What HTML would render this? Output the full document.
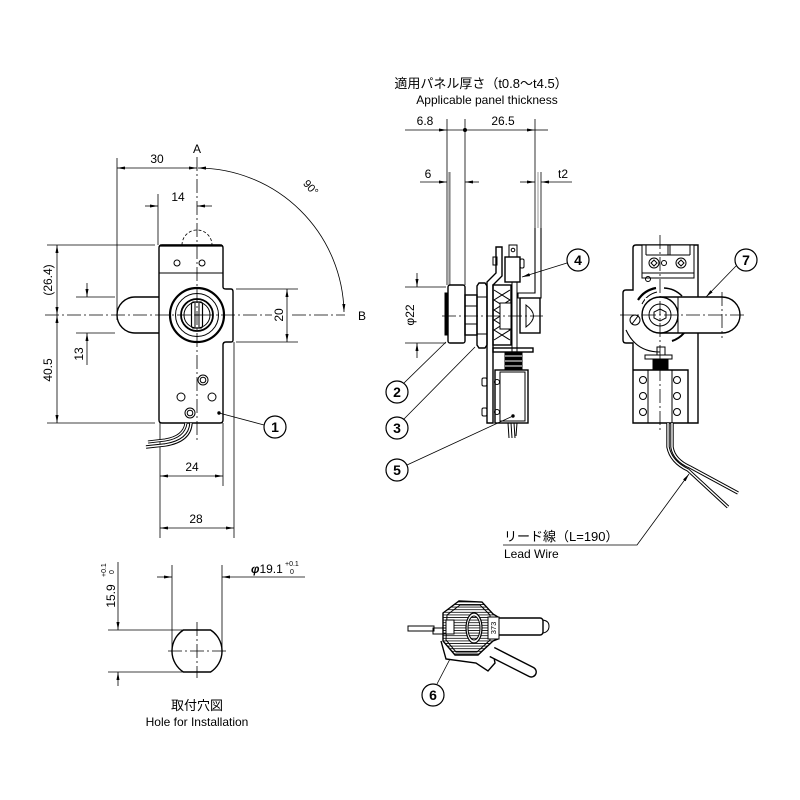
<!DOCTYPE html>
<html><head><meta charset="utf-8"><style>
html,body{margin:0;padding:0;background:#fff;}
svg{display:block;}
text{font-family:"Liberation Sans","Noto Sans CJK JP",sans-serif;fill:#000;}
.cl{stroke-dasharray:14 3 2 3;stroke-width:0.8;}
.t{stroke-width:0.8;}
.o{stroke-width:1.4;}
</style></head><body>
<svg width="800" height="800" viewBox="0 0 800 800" xmlns="http://www.w3.org/2000/svg">
<defs>
<marker id="ar" viewBox="0 0 10 10" refX="10" refY="5" markerWidth="8" markerHeight="8" markerUnits="userSpaceOnUse" orient="auto-start-reverse"><path d="M0,3.1 L10,5 L0,6.9Z" fill="#000" stroke="none"/></marker>
<pattern id="hs" width="3" height="2.6" patternUnits="userSpaceOnUse"><line x1="0" y1="1.3" x2="3" y2="1.3" stroke="#000" stroke-width="0.8"/></pattern>
</defs>
<rect width="800" height="800" fill="#fff"/>

<g stroke="#000" fill="none" stroke-width="1">
<!-- ================= LEFT VIEW ================= -->
<line class="cl" x1="197" y1="157" x2="197" y2="440"/>
<line class="cl" x1="45" y1="315" x2="272" y2="315"/>
<line class="cl" x1="292" y1="315" x2="345" y2="315"/>

<!-- dim 30 -->
<line class="t" x1="117" y1="158" x2="117" y2="320"/>
<line class="t" x1="117" y1="168" x2="197" y2="168" marker-start="url(#ar)" marker-end="url(#ar)"/>
<!-- 90 arc -->
<path class="t" d="M198,168 A147,147 0 0 1 344,312" marker-start="url(#ar)" marker-end="url(#ar)"/>
<!-- dim 14 -->
<line class="t" x1="158" y1="194" x2="158" y2="245"/>
<line class="t" x1="145" y1="206" x2="158" y2="206" marker-end="url(#ar)"/>
<line class="t" x1="212" y1="206" x2="197" y2="206" marker-end="url(#ar)"/>

<!-- body -->
<path class="o" d="M159,248 Q159,245 162,245 L220,245 Q223,245 223,248 L223,287 Q223,289 226,289 L231,289 Q233,289 233,292 L233,340 Q233,342 231,342 L226,342 Q223,342 223,345 L223,420 Q223,423 220,423 L162,423 Q159,423 159,420 Z"/>
<line x1="160" y1="245.5" x2="222" y2="245.5" stroke-width="2.2"/>
<line x1="159" y1="273" x2="223" y2="273"/>
<path class="t" d="M182,245 A15,15 0 0 1 212,245" stroke-dasharray="3 2"/>
<circle cx="177" cy="263" r="3"/><circle cx="202" cy="263" r="3"/>
<!-- lock -->
<circle cx="197" cy="315" r="27" stroke-width="2.2"/>
<circle cx="197" cy="315" r="21.5"/>
<circle cx="197" cy="315" r="16" stroke-width="1.8"/>
<circle cx="197" cy="315" r="13"/>
<rect x="191.5" y="302" width="11" height="26" rx="2" stroke-width="1.2"/>
<line x1="195" y1="303" x2="195" y2="327"/><line x1="199" y1="303" x2="199" y2="327"/>
<line x1="195" y1="315" x2="199" y2="315"/>
<!-- handle -->
<path class="o" d="M159,297 L135,297 A18,18 0 0 0 135,333 L159,333"/>
<!-- screws/holes lower -->
<circle cx="203" cy="380" r="5"/><circle cx="203" cy="380" r="2.8"/>
<circle cx="190" cy="413" r="5"/><circle cx="190" cy="413" r="2.8"/>
<circle cx="181" cy="397" r="4"/><circle cx="212" cy="397" r="4"/>
<!-- leader 1 -->
<circle cx="219" cy="413" r="1.2" fill="#000"/>
<line class="t" x1="219" y1="413" x2="264" y2="425"/>
<circle cx="275" cy="427" r="11" stroke-width="1.2"/>

<!-- dim 13 -->
<line class="t" x1="76" y1="297" x2="115" y2="297"/>
<line class="t" x1="76" y1="333" x2="115" y2="333"/>
<line class="t" x1="87" y1="283" x2="87" y2="297" marker-end="url(#ar)"/>
<line class="t" x1="87" y1="365" x2="87" y2="333" marker-end="url(#ar)"/>
<!-- dim 26.4 / 40.5 -->
<line class="t" x1="47" y1="245" x2="155" y2="245"/>
<line class="t" x1="47" y1="423" x2="155" y2="423"/>
<line class="t" x1="57" y1="245" x2="57" y2="315" marker-start="url(#ar)" marker-end="url(#ar)"/>
<line class="t" x1="57" y1="315" x2="57" y2="423" marker-start="url(#ar)" marker-end="url(#ar)"/>
<!-- dim 20 -->
<line class="t" x1="236" y1="289" x2="298" y2="289"/>
<line class="t" x1="236" y1="342" x2="298" y2="342"/>
<line class="t" x1="287" y1="289" x2="287" y2="342" marker-start="url(#ar)" marker-end="url(#ar)"/>

<!-- dims 24 / 28 -->
<line class="t" x1="160" y1="423" x2="160" y2="538"/>
<line class="t" x1="223" y1="423" x2="223" y2="486"/>
<line class="t" x1="234" y1="342" x2="234" y2="538"/>
<line class="t" x1="160" y1="476" x2="223" y2="476" marker-start="url(#ar)" marker-end="url(#ar)"/>
<line class="t" x1="160" y1="528" x2="234" y2="528" marker-start="url(#ar)" marker-end="url(#ar)"/>
<!-- wire -->
<path d="M191,423 Q190,441 165,445 L146,447" stroke-width="3.4"/>
<path d="M191,423 Q190,441 165,445 L146,447" stroke="#fff" stroke-width="1.4"/>
<path d="M186,423 Q184,437 165,440 L148,442" stroke-width="3"/>
<path d="M186,423 Q184,437 165,440 L148,442" stroke="#fff" stroke-width="1.2"/>

<!-- ================= HOLE ================= -->
<path class="o" d="M183.4,630 L210.6,630 A25,25 0 0 1 210.6,672 L183.4,672 A25,25 0 0 1 183.4,630 Z"/>
<line class="cl" x1="197" y1="622" x2="197" y2="678"/>
<line class="cl" x1="168" y1="651" x2="227" y2="651"/>
<line class="t" x1="172" y1="565" x2="172" y2="651"/>
<line class="t" x1="222" y1="565" x2="222" y2="651"/>
<line class="t" x1="157" y1="577" x2="172" y2="577" marker-end="url(#ar)"/>
<line class="t" x1="305" y1="577" x2="222" y2="577" marker-end="url(#ar)"/>
<line class="t" x1="108" y1="630" x2="183" y2="630"/>
<line class="t" x1="108" y1="672" x2="183" y2="672"/>
<line class="t" x1="118" y1="562" x2="118" y2="630" marker-end="url(#ar)"/>
<line class="t" x1="118" y1="686" x2="118" y2="672" marker-end="url(#ar)"/>

<!-- ================= MIDDLE VIEW ================= -->
<line class="t" x1="405" y1="130" x2="447" y2="130" marker-end="url(#ar)"/>
<line class="t" x1="447" y1="130" x2="535" y2="130" marker-end="url(#ar)"/>
<line class="t" x1="548" y1="130" x2="535" y2="130"/>
<circle cx="465" cy="130" r="1.5" fill="#000"/>
<line class="t" x1="447" y1="119" x2="447" y2="285"/>
<line class="t" x1="465" y1="119" x2="465" y2="285"/>
<line class="t" x1="535" y1="119" x2="535" y2="228"/>
<line x1="449.5" y1="172" x2="449.5" y2="285" stroke="#888" stroke-width="2.2"/>
<line x1="538" y1="172" x2="538" y2="228" stroke="#999" stroke-width="1"/>
<line class="t" x1="541" y1="172" x2="541" y2="228"/>
<!-- dim 6, t2 -->
<line class="t" x1="420" y1="182" x2="447" y2="182" marker-end="url(#ar)"/>
<line class="t" x1="479" y1="182" x2="465" y2="182" marker-end="url(#ar)"/>
<line class="t" x1="520" y1="182" x2="535" y2="182" marker-end="url(#ar)"/>
<line class="t" x1="572" y1="182" x2="541" y2="182" marker-end="url(#ar)"/>
<!-- striker L -->
<path d="M535,228 L535,293 L518,293 L518,298 L541,298 L541,228" stroke-width="1.1"/>
<!-- knob -->
<rect x="448" y="285" width="17" height="58" rx="2" class="o"/>
<rect x="445" y="293" width="3" height="42" fill="#000"/>
<rect x="465" y="295" width="12" height="40" class="o"/>
<line x1="465" y1="306" x2="477" y2="306"/><line x1="465" y1="324" x2="477" y2="324"/>
<path class="o" d="M479,283 L485,283 L487,286 L487,345 L485,348 L479,348 L477,345 L477,286 Z"/>
<line x1="477" y1="297" x2="487" y2="297"/><line x1="477" y1="334" x2="487" y2="334"/>
<!-- plate -->
<path class="o" d="M487,423 L487,282 L496,273 L496,247 L502,247 L502,276 L493,285 L493,423 Z"/>
<rect x="493" y="257" width="4" height="8"/>
<!-- cam block -->
<rect x="493" y="285" width="18" height="60" class="o"/>
<path d="M494,290 L510,300 L494,310 L510,320 L494,330 L510,340 M510,290 L494,300 L510,310 L494,320 L510,330 L494,340"/>
<rect x="500" y="303" width="11" height="26" fill="#fff"/>
<!-- switch 4 -->
<rect x="505" y="257" width="15" height="25" class="o"/>
<rect x="509" y="245" width="8" height="12"/>
<circle cx="513" cy="250" r="1.8"/>
<rect x="520" y="259" width="4" height="9" rx="1.5"/>
<rect x="512" y="282" width="5" height="70"/>
<!-- roller -->
<rect x="520" y="298" width="20" height="35" class="o"/>
<path d="M526,305 Q541,316 526,327 Z"/>
<line class="cl" x1="442" y1="316" x2="543" y2="316"/>
<!-- solenoid -->
<rect x="493" y="348" width="40" height="4" class="o"/>
<rect x="505" y="352" width="17" height="18" fill="#000"/>
<line x1="505" y1="356" x2="522" y2="356" stroke="#fff"/><line x1="505" y1="361" x2="522" y2="361" stroke="#fff"/><line x1="505" y1="366" x2="522" y2="366" stroke="#fff"/>
<rect x="495" y="370" width="33" height="53" class="o"/>
<rect x="500" y="372" width="25" height="49"/>
<circle cx="497" cy="382" r="2.5"/><circle cx="497" cy="412" r="2.5"/>
<rect x="482" y="378" width="5" height="8" rx="1.5"/><rect x="482" y="408" width="5" height="8" rx="1.5"/>
<path d="M508,423 L509,438 M511,423 L512,438 M514,423 L515,438 M517,423 L516,436"/>
<!-- phi22 dim -->
<line class="t" x1="405" y1="287" x2="446" y2="287"/>
<line class="t" x1="405" y1="343" x2="446" y2="343"/>
<line class="t" x1="417" y1="273" x2="417" y2="287" marker-end="url(#ar)"/>
<line class="t" x1="417" y1="358" x2="417" y2="343" marker-end="url(#ar)"/>
<!-- balloons -->
<circle cx="397" cy="392" r="11" stroke-width="1.2"/>
<circle cx="397" cy="428" r="11" stroke-width="1.2"/>
<circle cx="397" cy="470" r="11" stroke-width="1.2"/>
<circle cx="578" cy="260" r="11" stroke-width="1.2"/>
<line class="t" x1="404" y1="383" x2="446" y2="342"/>
<line class="t" x1="404" y1="419" x2="475" y2="347"/>
<line class="t" x1="407" y1="465" x2="513" y2="416"/>
<circle cx="513" cy="416" r="1.2" fill="#000"/>
<line class="t" x1="567" y1="263" x2="522" y2="277" marker-end="url(#ar)"/>

<!-- ================= RIGHT VIEW ================= -->
<path class="o" d="M636,245 L698,245 L698,423 L633,423 L633,343 L626,343 Q623,343 623,340 L623,293 Q623,290 626,290 L633,290 L633,248 Q633,245 636,245 Z"/>
<rect x="642" y="245" width="52" height="33" fill="#fff"/>
<path d="M642,245 L642,278 L694,278 L694,245 M642,273 L694,273 M646,245 L646,255 M668,245 L668,255 M670,245 L670,255 M690,245 L690,255 M646,255 L690,255"/>
<circle cx="654" cy="263" r="5"/><path d="M654,260 L657,263 L654,266 L651,263 Z"/>
<circle cx="681" cy="263" r="5"/><path d="M681,260 L684,263 L681,266 L678,263 Z"/>
<circle cx="664" cy="263" r="2.5"/>
<circle cx="648" cy="279" r="2.5"/>
<!-- cam region -->
<path d="M626,330 Q636,352 660,352" stroke-width="1.1"/>
<path d="M638,300 A27,27 0 0 1 656,288" stroke-width="2.2"/>
<path d="M642,304 A23,23 0 0 1 657,292"/>
<path d="M664,288 A27,27 0 0 1 682,296" stroke-width="1.6"/>
<path d="M672,341 A27,27 0 0 0 684,333" stroke-width="2"/>
<rect x="645" y="298" width="33" height="36" fill="#fff" stroke="none"/>
<!-- handle -->
<path class="o" d="M660,297 L722,297 A18,18 0 0 1 722,333 L660,333" fill="#fff"/>
<line x1="678" y1="297" x2="678" y2="333"/>
<line class="cl" x1="722" y1="292" x2="722" y2="338"/>
<circle cx="660" cy="315" r="18" class="o" fill="#fff"/>
<circle cx="660" cy="315" r="11"/>
<path d="M660,309 L666,312 L666,318 L660,321 L654,318 L654,312 Z"/>
<circle cx="635" cy="320" r="5"/><line x1="632" y1="324" x2="638" y2="316"/>
<line class="cl" x1="620" y1="315" x2="745" y2="315"/>
<line class="cl" x1="660" y1="235" x2="660" y2="432"/>
<!-- solenoid bottom -->
<rect x="657" y="347" width="8" height="8"/>
<rect x="645" y="355" width="27" height="4"/>
<rect x="653" y="359" width="15" height="11" fill="#000"/>
<path class="o" d="M633,370 L688,370 L688,423"/>
<line x1="648" y1="370" x2="648" y2="423"/><line x1="672" y1="370" x2="672" y2="423"/>
<circle cx="643" cy="380" r="3.5"/><circle cx="643" cy="396" r="3.5"/><circle cx="643" cy="412" r="3.5"/>
<circle cx="677" cy="380" r="3.5"/><circle cx="677" cy="396" r="3.5"/><circle cx="677" cy="412" r="3.5"/>
<!-- wires -->
<path d="M672,423 L672,447 Q674,460 690,467 L738,493" stroke-width="3.4"/>
<path d="M672,423 L672,447 Q674,460 690,467 L738,493" stroke="#fff" stroke-width="1.4"/>
<path d="M668,423 L668,447 Q671,462 688,470 L728,507" stroke-width="3.4"/>
<path d="M668,423 L668,447 Q671,462 688,470 L728,507" stroke="#fff" stroke-width="1.4"/>
<circle cx="746" cy="260" r="11" stroke-width="1.2"/>
<line class="t" x1="736" y1="266" x2="706" y2="297" marker-end="url(#ar)"/>
<!-- lead wire leader -->
<path class="t" d="M503,545 L637,545 L689,474" marker-end="url(#ar)"/>

<!-- ================= KEY ================= -->
<rect x="408" y="626" width="26" height="5"/>
<rect x="433" y="628" width="20" height="6"/>
<path class="o" d="M441,641 L446,659 L476,663 L488,671 L495,663 L493,652" fill="#fff"/>
<g transform="translate(492,652) rotate(27)">
<path class="o" d="M0,-5 L44,-5 A5,5 0 0 1 44,5 L0,5" fill="#fff"/>
</g>
<path class="o" d="M498,618 L540,618 A3,3 0 0 1 543,621 L543,632 A3,3 0 0 1 540,635 L498,635" fill="#fff"/>
<path d="M543,620 Q549,621 549,626 Q549,632 543,633"/>
<path class="o" d="M443,613 L459,601 L482,602 L493,614 L498,617 L498,639 L493,641 L478,655 L455,655 L443,641 Z" fill="url(#hs)"/>
<path d="M447,615 L460,605 L480,605 L490,615 L490,640 L477,652 L456,652 L446,640 Z" fill="none"/>
<ellipse cx="474" cy="628" rx="8" ry="15" fill="#fff" stroke-width="1.2"/>
<ellipse cx="474" cy="628" rx="6" ry="12" fill="url(#hs)"/>
<rect x="488" y="617" width="11" height="22" fill="#fff"/>
<rect x="446" y="620" width="8" height="14" fill="#fff"/>
<circle cx="433" cy="695" r="11" stroke-width="1.2"/>
<line class="t" x1="437" y1="684" x2="450" y2="659"/>
</g>

<!-- ================= TEXT ================= -->
<g font-size="12">
<text x="197" y="153" text-anchor="middle">A</text>
<text x="362" y="320" text-anchor="middle">B</text>
<text x="157" y="163" text-anchor="middle">30</text>
<text x="178" y="201" text-anchor="middle">14</text>
<text transform="translate(308,190) rotate(48)" text-anchor="middle" font-size="11">90°</text>
<text transform="translate(283,315) rotate(-90)" text-anchor="middle">20</text>
<text transform="translate(52,280) rotate(-90)" text-anchor="middle">(26.4)</text>
<text transform="translate(52,370) rotate(-90)" text-anchor="middle">40.5</text>
<text transform="translate(83,354) rotate(-90)" text-anchor="middle">13</text>
<text x="192" y="471" text-anchor="middle">24</text>
<text x="196" y="523" text-anchor="middle">28</text>
<text x="275" y="432" text-anchor="middle" font-size="14" font-weight="bold">1</text>
<text x="251" y="573"><tspan font-style="italic" font-weight="bold">φ</tspan>19.1</text>
<text x="285" y="566" font-size="7">+0.1</text>
<text x="290" y="574" font-size="7">0</text>
<text transform="translate(115,596) rotate(-90)" text-anchor="middle">15.9</text>
<text transform="translate(106,577) rotate(-90)" font-size="7">+0.1</text>
<text transform="translate(114,574) rotate(-90)" font-size="7">0</text>
<text x="197" y="710" text-anchor="middle" font-size="13">取付穴図</text>
<text x="197" y="726" text-anchor="middle" font-size="12">Hole for Installation</text>

<text x="481" y="88" text-anchor="middle" font-size="13">適用パネル厚さ（t0.8〜t4.5）</text>
<text x="487" y="104" text-anchor="middle" font-size="12">Applicable panel thickness</text>
<text x="425" y="125" text-anchor="middle">6.8</text>
<text x="503" y="125" text-anchor="middle">26.5</text>
<text x="428" y="178" text-anchor="middle">6</text>
<text x="563" y="178" text-anchor="middle">t2</text>
<text transform="translate(414,315) rotate(-90)" text-anchor="middle">φ22</text>
<text x="397" y="397" text-anchor="middle" font-size="14" font-weight="bold">2</text>
<text x="397" y="433" text-anchor="middle" font-size="14" font-weight="bold">3</text>
<text x="397" y="475" text-anchor="middle" font-size="14" font-weight="bold">5</text>
<text x="578" y="265" text-anchor="middle" font-size="14" font-weight="bold">4</text>
<text x="746" y="265" text-anchor="middle" font-size="14" font-weight="bold">7</text>
<text x="433" y="700" text-anchor="middle" font-size="14" font-weight="bold">6</text>
<text x="504" y="541" font-size="13">リード線（L=190）</text>
<text x="504" y="558" font-size="12">Lead Wire</text>
<text transform="translate(496,628) rotate(-90)" text-anchor="middle" font-size="7.5">373</text>
</g>
</svg>
</body></html>
